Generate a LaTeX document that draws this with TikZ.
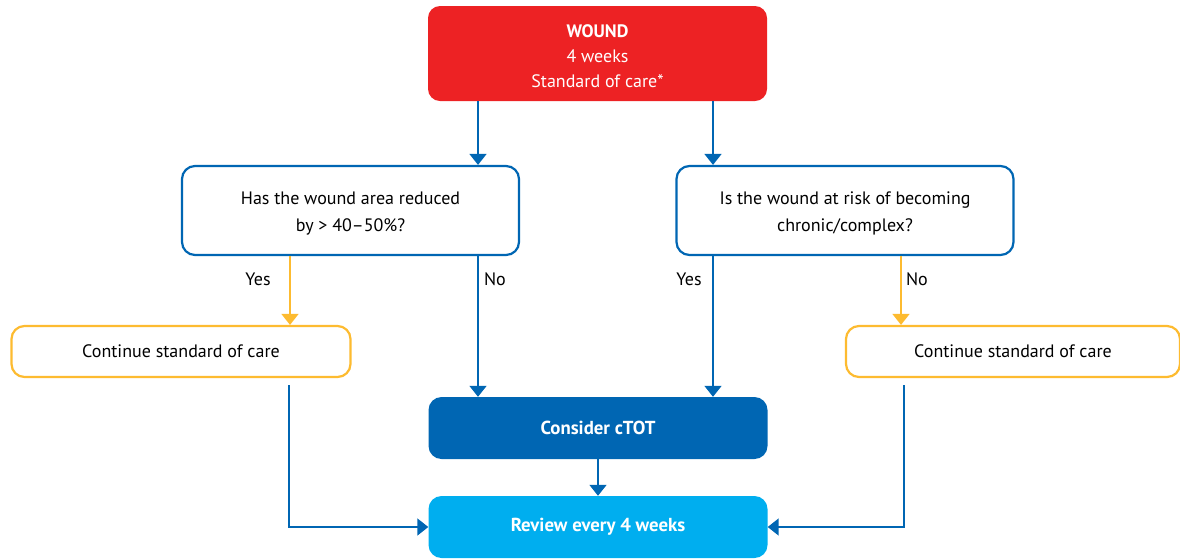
\documentclass[tikz,border=0pt]{standalone}
\usepackage{fontspec}
\setmainfont{PT Sans}
\usetikzlibrary{arrows.meta}
\definecolor{wred}{HTML}{ED2224}
\definecolor{wblue}{HTML}{0066B3}
\definecolor{wyel}{HTML}{FDBB30}
\definecolor{wcyan}{HTML}{00AEEF}
\newcommand{\dn}{\rule{0pt}{19pt}}
\tikzset{
  box/.style={rounded corners=13pt, align=center, inner sep=0pt, font=\fontsize{18}{27}\selectfont},
  qbox/.style={box, draw=wblue, line width=2.2pt, fill=white, minimum width=337pt, minimum height=89pt},
  ybox/.style={box, draw=wyel, line width=2.2pt, fill=white, minimum height=51pt},
  fbox/.style={box, text=white, minimum width=339pt, minimum height=62pt, font=\fontsize{18.8}{25}\selectfont\bfseries},
  arr/.style={draw=wblue, line width=1.6pt, -{Triangle[width=17pt,length=11pt]}},
  yarr/.style={draw=wyel, line width=1.6pt, -{Triangle[width=17pt,length=11pt]}},
  lbl/.style={font=\fontsize{18}{20}\selectfont, inner sep=0pt}
}
\begin{document}
\begin{tikzpicture}[x=1pt,y=-1pt]
\useasboundingbox (0,0) rectangle (1180,558);
\node[box, fill=wred, text=white, minimum width=339pt, minimum height=95pt, rounded corners=12pt,
      font=\fontsize{18}{25}\selectfont] (wound) at (597.5,53.5)
      {\dn\textbf{WOUND}\\4 weeks\\Standard of care*};
\node[qbox] (q1) at (350.5,210.5) {\dn Has the wound area reduced\\by > 40–50\%?};
\node[qbox] (q2) at (845,210.5) {\dn Is the wound at risk of becoming\\chronic/complex?};
\node[ybox, minimum width=339pt] (y1) at (181,351.5) {\raisebox{-1.5pt}{Continue standard of care}};
\node[ybox, minimum width=334pt] (y2) at (1013,351.5) {\raisebox{-1.5pt}{Continue standard of care}};
\node[fbox, fill=wblue] (ctot) at (598,428) {\raisebox{-2pt}{Consider cTOT}};
\node[fbox, fill=wcyan] (rev) at (598,527) {\raisebox{-2pt}{Review every 4 weeks}};
\coordinate (xa) at (478,0);
\coordinate (xb) at (713,0);
\coordinate (xc) at (290,0);
\coordinate (xd) at (901,0);
\coordinate (xe) at (289,0);
\coordinate (xf) at (904,0);
\draw[arr] (xa |- wound.south) -- (xa |- q1.north);
\draw[arr] (xb |- wound.south) -- (xb |- q2.north);
\draw[yarr] (xc |- q1.south) -- (xc |- y1.north);
\draw[arr] (xa |- q1.south) -- (xa |- ctot.north);
\draw[arr] (xb |- q2.south) -- (xb |- ctot.north);
\draw[yarr] (xd |- q2.south) -- (xd |- y2.north);
\draw[arr] (ctot.south) -- (rev.north);
\draw[arr] ([yshift=-7pt]xe |- y1.south) -- (xe |- rev.west) -- (rev.west);
\draw[arr] ([yshift=-7pt]xf |- y2.south) -- (xf |- rev.east) -- (rev.east);
\node[lbl] (l1) at (258,279) {Yes};
\node[lbl] (l2) at (495,279) {No};
\node[lbl] (l3) at (689,279) {Yes};
\node[lbl] (l4) at (917,279) {No};
\end{tikzpicture}
\end{document}
